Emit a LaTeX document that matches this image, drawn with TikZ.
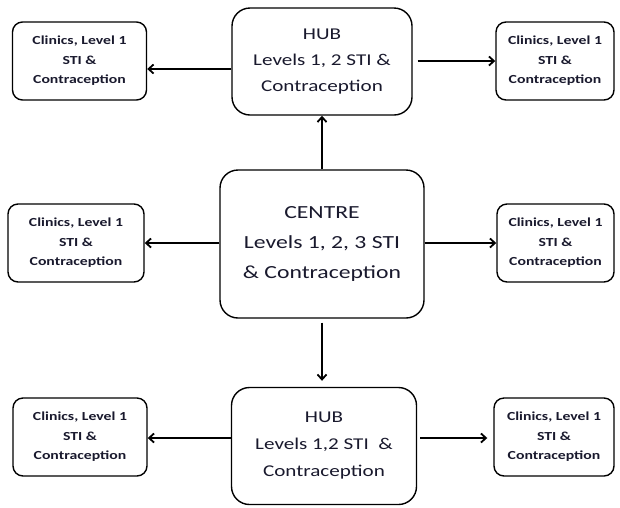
\documentclass[tikz,border=0pt]{standalone}
\usepackage{fontspec}
\setmainfont{Carlito}
\newfontfamily\widefont[FakeStretch=1.28]{Carlito}
\usetikzlibrary{arrows.meta}
\definecolor{txt}{RGB}{25,25,45}
\begin{document}
\begin{tikzpicture}[x=1pt,y=-1pt,
  smallbox/.style={draw,line width=1.4pt,rounded corners=10pt,align=center,
    minimum width=#1,minimum height=78pt,inner sep=0pt,text=txt,
    font=\widefont\bfseries\fontsize{12.3}{19.5}\selectfont},
  smallbox/.default=134pt,
  bigbox/.style={draw,line width=1.4pt,rounded corners=18pt,align=center,inner sep=0pt,text=txt},
  arr/.style={line width=1.8pt,-{Straight Barb[length=5pt,width=9pt]}}]
\useasboundingbox (0,0) rectangle (620,507);
% top row
\node[bigbox,minimum width=180pt,minimum height=107pt,font=\widefont\fontsize{16.5}{26}\selectfont] (hubT) at (322,61.5)
  {HUB\\Levels 1, 2 STI \&\\Contraception};
\node[smallbox] (tl) at (79.5,61) {Clinics, Level 1\\STI \&\\Contraception};
\node[smallbox=118pt] (tr) at (555,61) {Clinics, Level 1\\STI \&\\Contraception};
% middle row
\node[bigbox,minimum width=204pt,minimum height=148pt,font=\widefont\fontsize{18.5}{30}\selectfont] (centre) at (322,244)
  {CENTRE\\Levels 1, 2, 3 STI\\\& Contraception};
\node[smallbox=136pt] (ml) at (76,243) {Clinics, Level 1\\STI \&\\Contraception};
\node[smallbox=117pt] (mr) at (555.5,243) {Clinics, Level 1\\STI \&\\Contraception};
% bottom row
\node[bigbox,minimum width=185pt,minimum height=117pt,font=\widefont\fontsize{16.5}{27}\selectfont] (hubB) at (324,446)
  {HUB\\Levels 1,2 STI~ \&\\Contraception};
\node[smallbox] (bl) at (80,437) {Clinics, Level 1\\STI \&\\Contraception};
\node[smallbox=120pt] (br) at (554,437) {Clinics, Level 1\\STI \&\\Contraception};
% connectors
\draw[arr] (centre.north) -- (hubT.south);
\draw[arr] ([yshift=-7.5pt]hubT.west) -- ([yshift=-7.5pt]hubT.west -| tl.east);
\draw[arr] ([xshift=5pt]hubT.east |- tr.west) -- (tr.west);
\draw[arr] (centre.west |- ml.east) -- (ml.east);
\draw[arr] (centre.east |- mr.west) -- (mr.west);
\draw[arr] ([yshift=-4pt]centre.south) -- ([yshift=6pt]centre.south |- hubB.north);
\draw[arr] ([yshift=8pt]hubB.west) -- ([yshift=8pt]hubB.west -| bl.east);
\draw[arr] ([yshift=8pt,xshift=3pt]hubB.east) -- ([yshift=8pt,xshift=-6pt]hubB.east -| br.west);
\end{tikzpicture}
\end{document}
